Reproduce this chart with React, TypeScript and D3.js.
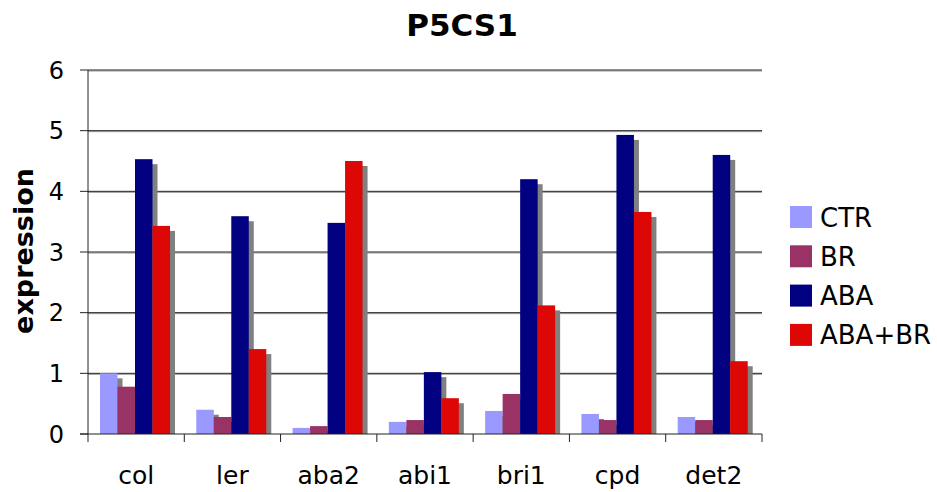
import React from "react";
import * as d3 from "d3";

const categories = ["col", "ler", "aba2", "abi1", "bri1", "cpd", "det2"];
const seriesNames = ["CTR", "BR", "ABA", "ABA+BR"];
const ctr = [1.0, 0.4, 0.1, 0.2, 0.38, 0.33, 0.28];
const br = [0.78, 0.28, 0.13, 0.23, 0.66, 0.23, 0.23];
const aba = [4.53, 3.59, 3.48, 1.02, 4.2, 4.93, 4.6];
const abaBr = [3.43, 1.4, 4.5, 0.59, 2.12, 3.66, 1.2];
const yTicks = [0, 1, 2, 3, 4, 5, 6];
const colors = ["#9999ff", "#993366", "#000080", "#dd0806"];

const W = 937;
const H = 492;
const left = 88;
const right = 762;
const top = 70;
const bottom = 434;
const FONT = "'DejaVu Sans', Verdana, sans-serif";

export default function App() {
  const series = [ctr, br, aba, abaBr];
  const x = d3.scaleBand<string>().domain(categories).range([left, right]).paddingInner(0).paddingOuter(0);
  const inner = d3.scaleBand<string>().domain(seriesNames).range([12, 12 + 70]);
  const y = d3.scaleLinear().domain([0, 6]).range([bottom, top]);
  const sh = 5;

  const bars: { sx: number; v: number; c: string; key: string }[] = [];
  categories.forEach((cat, i) => {
    series.forEach((s, j) => {
      bars.push({ sx: (x(cat) as number) + (inner(seriesNames[j]) as number), v: s[i], c: colors[j], key: cat + j });
    });
  });
  const bw = inner.bandwidth();

  return (
    <svg width={W} height={H} style={{ position: "absolute", left: 0, top: 0, background: "#fff" }}>
      <rect x={0} y={0} width={W} height={H} fill="#fff" />
      <text x={462} y={36} textAnchor="middle" fontFamily={FONT} fontWeight="bold" fontSize={31}>P5CS1</text>
      {/* gridlines */}
      {yTicks.filter((t) => t > 0).map((t) => (
        <g key={t}>
          <line x1={left} x2={right} y1={y(t) + 1} y2={y(t) + 1} stroke="#999" strokeWidth={1} />
          <line x1={left} x2={right} y1={y(t)} y2={y(t)} stroke="#222" strokeWidth={1} />
        </g>
      ))}
      <defs>
        <clipPath id="plotclip">
          <rect x={left} y={0} width={W} height={bottom} />
        </clipPath>
      </defs>
      <g clipPath="url(#plotclip)">
        {bars.map((b) => (
          <rect key={"s" + b.key} x={b.sx + sh} y={y(b.v) + sh} width={bw} height={Math.max(0, bottom - y(b.v))} fill="#808080" />
        ))}
        {bars.map((b) => (
          <rect key={b.key} x={b.sx} y={y(b.v)} width={bw} height={bottom - y(b.v)} fill={b.c} />
        ))}
      </g>
      {/* axes */}
      <line x1={left} x2={left} y1={top} y2={bottom + 8} stroke="#222" strokeWidth={1} />
      <line x1={left - 8} x2={right} y1={bottom} y2={bottom} stroke="#222" strokeWidth={1} />
      {yTicks.map((t) => (
        <g key={"yt" + t}>
          <line x1={left - 8} x2={left} y1={y(t)} y2={y(t)} stroke="#222" />
          <text x={64} y={y(t) + 8.5} textAnchor="end" fontFamily={FONT} fontSize={24}>{t}</text>
        </g>
      ))}
      {categories.map((c) => (
        <line key={"xt" + c} x1={(x(c) as number) + x.bandwidth()} x2={(x(c) as number) + x.bandwidth()} y1={bottom} y2={bottom + 8} stroke="#222" />
      ))}
      {categories.map((c) => (
        <text key={"xl" + c} x={(x(c) as number) + x.bandwidth() / 2} y={484} textAnchor="middle" fontFamily={FONT} fontSize={25}>{c}</text>
      ))}
      <text transform={`translate(33,251) rotate(-90)`} textAnchor="middle" fontFamily={FONT} fontWeight="bold" fontSize={27}>expression</text>
      {/* legend */}
      {seriesNames.map((n, j) => (
        <g key={"lg" + n} transform={`translate(790,${206 + j * 39.3})`}>
          <rect x={0} y={0} width={22} height={22} fill={colors[j]} />
          <text x={30} y={20.5} fontFamily={FONT} fontSize={26}>{n}</text>
        </g>
      ))}
    </svg>
  );
}
